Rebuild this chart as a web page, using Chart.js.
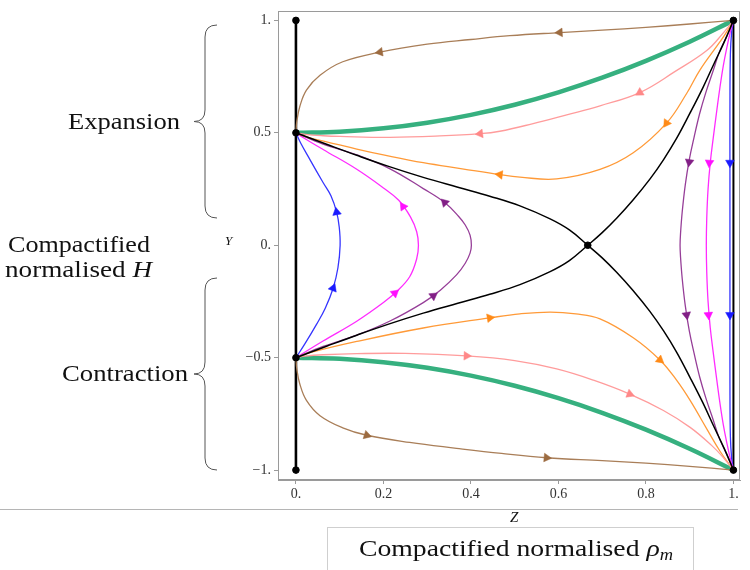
<!DOCTYPE html>
<html>
<head>
<meta charset="utf-8">
<script src="https://cdn.jsdelivr.net/npm/chart.js@4.4.1/dist/chart.umd.min.js"></script>
<style>
  html,body{margin:0;padding:0;background:#fff;}
  #wrap{position:relative;width:750px;height:570px;overflow:hidden;font-family:"Liberation Serif","DejaVu Serif",serif;color:#111;}
  #c{position:absolute;left:0;top:0;}
  .t{position:absolute;white-space:nowrap;line-height:1;transform-origin:left center;}
  #box{position:absolute;left:327px;top:527px;width:367px;height:60px;border:1px solid #cfcfcf;box-sizing:border-box;}
  svg{position:absolute;left:0;top:0;}
</style>
</head>
<body>
<div id="wrap">
  <canvas id="c" width="750" height="570"></canvas>
  <svg width="750" height="570">
    <path d="M217,25 Q205,25 205,37 L205,110 Q205,121.5 194,121.5 Q205,121.5 205,133 L205,206 Q205,218 217,218" fill="none" stroke="#555" stroke-width="1"/>
    <path d="M217,278 Q205,278 205,290 L205,362 Q205,374 194,374 Q205,374 205,386 L205,458 Q205,470 217,470" fill="none" stroke="#555" stroke-width="1"/>
    <line x1="0" y1="509.5" x2="738" y2="509.5" stroke="#b5b5b5" stroke-width="1"/>
  </svg>
  <div id="box"></div>
  <div class="t fit" data-w="112" style="left:68px;top:109px;font-size:24px;">Expansion</div>
  <div class="t fit" data-w="142" style="left:8px;top:232px;font-size:24px;">Compactified</div>
  <div class="t fit" data-w="147" style="left:5px;top:257px;font-size:24px;">normalised <i>H</i></div>
  <div class="t fit" data-w="126" style="left:62px;top:361px;font-size:24px;">Contraction</div>
  <div class="t" style="left:225px;top:234px;font-size:13px;font-style:italic;">Y</div>
  <div class="t" style="left:510px;top:510px;font-size:15px;font-style:italic;">Z</div>
  <div class="t fit" data-w="314" style="left:359px;top:536px;font-size:24px;">Compactified normalised <i>ρ</i><sub style="font-size:16px;font-style:italic;position:relative;top:-2px;">m</sub></div>
</div>
<script>
// ---------- data ----------
const zTicks = [0, 0.2, 0.4, 0.6, 0.8, 1];
const zTickLabels = ['0.', '0.2', '0.4', '0.6', '0.8', '1.'];
const yTicks = [-1, -0.5, 0, 0.5, 1];
const yTickLabels = ['\u22121.', '\u22120.5', '0.', '0.5', '1.'];

const fixedPoints = [[0,1],[0,0.5],[0,-0.5],[0,-1],[1,1],[1,-1],[0.667,0]];

const leftEdge  = [[0,1],[0,-1]];
const rightEdge = [[1,1],[1,-1]];

const greenUpper = [[0,0.5],[0.1,0.505],[0.2,0.52],[0.3,0.545],[0.4,0.58],[0.5,0.625],[0.6,0.68],[0.7,0.745],[0.8,0.82],[0.9,0.905],[1,1]];
const greenLower = [[0,-0.5],[0.1,-0.505],[0.2,-0.52],[0.3,-0.545],[0.4,-0.58],[0.5,-0.625],[0.6,-0.68],[0.7,-0.745],[0.8,-0.82],[0.9,-0.905],[1,-1]];

const brownUpper = [[1,1],[0.9,0.984],[0.8,0.969],[0.7,0.957],[0.603,0.946],[0.489,0.932],[0.4,0.915],[0.3,0.894],[0.192,0.859],[0.107,0.816],[0.055,0.756],[0.024,0.69],[0.009,0.618],[0.002,0.55],[0,0.5]];
const brownLower = [[0,-0.5],[0.002,-0.55],[0.009,-0.618],[0.024,-0.69],[0.055,-0.758],[0.107,-0.812],[0.162,-0.845],[0.26,-0.877],[0.367,-0.903],[0.47,-0.926],[0.573,-0.945],[0.7,-0.958],[0.8,-0.969],[0.9,-0.983],[1,-1]];

const pinkUpper = [[1,1],[0.975,0.94],[0.939,0.866],[0.866,0.772],[0.786,0.679],[0.695,0.62],[0.619,0.58],[0.54,0.54],[0.466,0.507],[0.421,0.496],[0.329,0.486],[0.215,0.48],[0.101,0.484],[0.062,0.487],[0.021,0.493],[0,0.5]];
const pinkLower = [[0,-0.5],[0.021,-0.493],[0.062,-0.487],[0.139,-0.482],[0.25,-0.481],[0.39,-0.492],[0.5,-0.513],[0.596,-0.55],[0.68,-0.6],[0.763,-0.662],[0.84,-0.735],[0.901,-0.81],[0.95,-0.89],[0.975,-0.94],[1,-1]];

const orangeUpper = [[1,1],[0.985,0.95],[0.969,0.904],[0.923,0.778],[0.893,0.675],[0.847,0.543],[0.771,0.411],[0.695,0.337],[0.596,0.295],[0.512,0.303],[0.466,0.314],[0.38,0.34],[0.291,0.367],[0.2,0.402],[0.139,0.428],[0.07,0.46],[0.032,0.477],[0,0.5]];
const orangeLower = [[0,-0.5],[0.032,-0.478],[0.139,-0.428],[0.291,-0.368],[0.443,-0.323],[0.512,-0.305],[0.581,-0.297],[0.64,-0.305],[0.695,-0.327],[0.771,-0.411],[0.832,-0.51],[0.87,-0.6],[0.901,-0.69],[0.94,-0.82],[0.969,-0.915],[1,-1]];

const blackA = [[0,0.5],[0.03,0.478],[0.07,0.449],[0.139,0.4],[0.21,0.352],[0.291,0.302],[0.37,0.258],[0.443,0.218],[0.512,0.175],[0.581,0.117],[0.625,0.068],[0.667,0],[0.7,-0.056],[0.733,-0.12],[0.77,-0.2],[0.809,-0.294],[0.84,-0.38],[0.87,-0.475],[0.9,-0.585],[0.93,-0.7],[0.955,-0.805],[0.978,-0.9],[1,-1]];
const blackB = [[0,-0.5],[0.03,-0.478],[0.07,-0.449],[0.139,-0.4],[0.21,-0.352],[0.291,-0.302],[0.37,-0.258],[0.443,-0.218],[0.512,-0.175],[0.581,-0.117],[0.625,-0.068],[0.667,0],[0.7,0.056],[0.733,0.12],[0.77,0.2],[0.809,0.294],[0.84,0.38],[0.87,0.475],[0.9,0.585],[0.93,0.7],[0.955,0.805],[0.978,0.9],[1,1]];

const purpleRight = [[1,1],[0.985,0.93],[0.968,0.86],[0.954,0.778],[0.937,0.68],[0.923,0.587],[0.91,0.48],[0.899,0.38],[0.89,0.27],[0.883,0.15],[0.879,0.05],[0.878,0],[0.879,-0.05],[0.883,-0.15],[0.89,-0.27],[0.899,-0.38],[0.91,-0.48],[0.923,-0.587],[0.937,-0.68],[0.954,-0.778],[0.968,-0.86],[0.985,-0.93],[1,-1]];
const magentaRight = [[1,1],[0.993,0.95],[0.985,0.88],[0.977,0.8],[0.969,0.7],[0.962,0.6],[0.954,0.48],[0.947,0.367],[0.942,0.25],[0.939,0.12],[0.938,0],[0.939,-0.12],[0.942,-0.25],[0.947,-0.367],[0.954,-0.48],[0.962,-0.6],[0.969,-0.7],[0.977,-0.8],[0.985,-0.88],[0.993,-0.95],[1,-1]];
const blueRight = [[1,1],[0.996,0.95],[0.993,0.85],[0.992,0.6],[0.992,0.3],[0.992,0],[0.992,-0.3],[0.992,-0.6],[0.993,-0.85],[0.996,-0.95],[1,-1]];

const blueLeft = [[0,-0.5],[0.02,-0.44],[0.047,-0.352],[0.067,-0.28],[0.085,-0.191],[0.096,-0.1],[0.101,0],[0.099,0.08],[0.093,0.147],[0.08,0.22],[0.062,0.279],[0.032,0.381],[0.012,0.45],[0,0.5]];
const magentaLeft = [[0,-0.5],[0.062,-0.426],[0.139,-0.338],[0.2,-0.255],[0.23,-0.206],[0.26,-0.14],[0.276,-0.06],[0.28,0],[0.276,0.06],[0.262,0.125],[0.235,0.2],[0.2,0.255],[0.139,0.338],[0.062,0.426],[0.02,0.475],[0,0.5]];
const purpleLeft = [[0,-0.5],[0.062,-0.45],[0.139,-0.4],[0.215,-0.337],[0.291,-0.255],[0.33,-0.2],[0.367,-0.132],[0.387,-0.08],[0.398,-0.035],[0.401,0],[0.398,0.045],[0.387,0.09],[0.372,0.128],[0.34,0.19],[0.291,0.252],[0.215,0.34],[0.139,0.402],[0.062,0.45],[0,0.5]];

// arrowheads: [curve, z, y]
const brownArrows   = [['brownUpper',0.603,0.946],['brownUpper',0.192,0.859],['brownLower',0.162,-0.845],['brownLower',0.573,-0.945]];
const pinkArrows    = [['pinkUpper',0.786,0.679],['pinkUpper',0.421,0.496],['pinkLower',0.39,-0.492],['pinkLower',0.763,-0.662]];
const orangeArrows  = [['orangeUpper',0.847,0.543],['orangeUpper',0.466,0.314],['orangeLower',0.443,-0.323],['orangeLower',0.832,-0.51]];
const purpleArrows  = [['purpleRight',0.899,0.37],['purpleRight',0.893,-0.31],['purpleLeft',0.34,0.19],['purpleLeft',0.314,-0.225]];
const magentaArrows = [['magentaRight',0.945,0.367],['magentaRight',0.943,-0.31],['magentaLeft',0.245,0.172],['magentaLeft',0.226,-0.213]];
const blueArrows    = [['blueRight',0.992,0.367],['blueRight',0.992,-0.31],['blueLeft',0.093,0.147],['blueLeft',0.085,-0.191]];

// ---------- build chart ----------
const curves = {brownUpper, brownLower, pinkUpper, pinkLower, orangeUpper, orangeLower, purpleRight, purpleLeft, magentaRight, magentaLeft, blueRight, blueLeft};
const toXY = a => a.map(p => ({x:p[0], y:p[1]}));
const toArrow = a => a.map(p => ({c:p[0], x:p[1], y:p[2]}));

function arrowRot(ctx){
  const p = ctx.raw; if (!p || !p.c) return 0;
  const sx = ctx.chart.scales.x, sy = ctx.chart.scales.y;
  const pts = curves[p.c];
  const px = sx.getPixelForValue(p.x), py = sy.getPixelForValue(p.y);
  let best = Infinity, dx = 0, dy = -1;
  for (let i = 0; i < pts.length - 1; i++){
    const ax = sx.getPixelForValue(pts[i][0]), ay = sy.getPixelForValue(pts[i][1]);
    const bx = sx.getPixelForValue(pts[i+1][0]), by = sy.getPixelForValue(pts[i+1][1]);
    const vx = bx-ax, vy = by-ay, L = vx*vx+vy*vy || 1;
    let t = ((px-ax)*vx + (py-ay)*vy)/L; t = Math.max(0, Math.min(1, t));
    const qx = ax+t*vx-px, qy = ay+t*vy-py, d = qx*qx+qy*qy;
    if (d < best){ best = d; dx = vx; dy = vy; }
  }
  return Math.atan2(dx, -dy)*180/Math.PI;
}

function curve(data, color, width, order){
  return {data: toXY(data), showLine:true, borderColor:color, borderWidth:width, pointRadius:0, tension:0.4, fill:false, order:order};
}
function arrows(data, color){
  return {data: toArrow(data), showLine:false, pointStyle:'triangle', pointRadius:5, pointBackgroundColor:color, pointBorderColor:color, pointBorderWidth:0.5, pointRotation:arrowRot, order:1};
}

const C = {brown:'#A97E58', green:'#36B07F', pink:'#FF9C9C', orange:'#FF9A38', purple:'#963E98', magenta:'#FF2CFF', blue:'#3535FF', black:'#000'};

const datasets = [
  {data: toXY(fixedPoints), showLine:false, pointRadius:3.3, pointBackgroundColor:'#000', pointBorderColor:'#000', order:0},
  arrows(brownArrows, '#9C6B40'),
  arrows(pinkArrows, '#FF8888'),
  arrows(orangeArrows, '#FF8A17'),
  arrows(purpleArrows, '#821F86'),
  arrows(magentaArrows, '#FF0FFF'),
  arrows(blueArrows, '#1A1AFF'),
  curve(blackA, C.black, 1.5, 2),
  curve(blackB, C.black, 1.5, 2),
  curve(brownUpper, C.brown, 1.3, 3),
  curve(brownLower, C.brown, 1.3, 3),
  curve(pinkUpper, C.pink, 1.3, 3),
  curve(pinkLower, C.pink, 1.3, 3),
  curve(orangeUpper, C.orange, 1.3, 3),
  curve(orangeLower, C.orange, 1.3, 3),
  curve(purpleRight, C.purple, 1.3, 3),
  curve(purpleLeft, C.purple, 1.3, 3),
  curve(magentaRight, C.magenta, 1.3, 3),
  curve(magentaLeft, C.magenta, 1.3, 3),
  curve(blueRight, C.blue, 1.3, 3),
  curve(blueLeft, C.blue, 1.3, 3),
  curve(greenUpper, C.green, 4.5, 4),
  curve(greenLower, C.green, 4.5, 4),
  {data: toXY(leftEdge), showLine:true, borderColor:'#000', borderWidth:2.6, pointRadius:0, order:5},
  {data: toXY(rightEdge), showLine:true, borderColor:'#000', borderWidth:2, pointRadius:0, order:5}
];

const framePlugin = {
  id:'frame',
  afterDraw(chart){
    const a = chart.chartArea, g = chart.ctx;
    g.save(); g.strokeStyle = '#9a9a9a'; g.lineWidth = 1;
    g.strokeRect(Math.round(a.left)+0.5, Math.round(a.top)+0.5, Math.round(a.right-a.left)-1, Math.round(a.bottom-a.top)-1);
    g.restore();
  }
};

const tickFont = {family:'"Liberation Serif", serif', size:14};
new Chart(document.getElementById('c'), {
  type:'scatter',
  data:{datasets},
  options:{
    responsive:false, animation:false, devicePixelRatio:1,
    layout:{padding:{left:0, right:10, top:7, bottom:0}},
    plugins:{legend:{display:false}, tooltip:{enabled:false}},
    scales:{
      x:{
        type:'linear', min:-0.041, max:1.015,
        afterBuildTicks: s => { s.ticks = zTicks.map(v => ({value:v})); },
        afterFit: s => { s.height = 90; },
        ticks:{color:'#333', font:tickFont, padding:2, maxRotation:0, autoSkip:false,
               callback:(v) => { const i = zTicks.indexOf(v); return i >= 0 ? zTickLabels[i] : ''; }},
        grid:{drawOnChartArea:false, drawTicks:true, tickLength:4, color:'#9a9a9a'},
        border:{display:true, color:'#9a9a9a'}
      },
      y:{
        type:'linear', min:-1.044, max:1.04,
        afterBuildTicks: s => { s.ticks = yTicks.map(v => ({value:v})); },
        afterFit: s => { s.width = 278; },
        ticks:{color:'#333', font:tickFont, padding:3, autoSkip:false,
               callback:(v) => { const i = yTicks.indexOf(v); return i >= 0 ? yTickLabels[i] : ''; }},
        grid:{drawOnChartArea:false, drawTicks:true, tickLength:4, color:'#9a9a9a'},
        border:{display:true, color:'#9a9a9a'}
      }
    }
  },
  plugins:[framePlugin]
});

// fit annotation text widths to the reference
document.querySelectorAll('.fit').forEach(el => {
  const w = el.getBoundingClientRect().width;
  const target = +el.dataset.w;
  if (w > 0) el.style.transform = 'scaleX(' + (target / w).toFixed(3) + ')';
});
</script>
</body>
</html>
